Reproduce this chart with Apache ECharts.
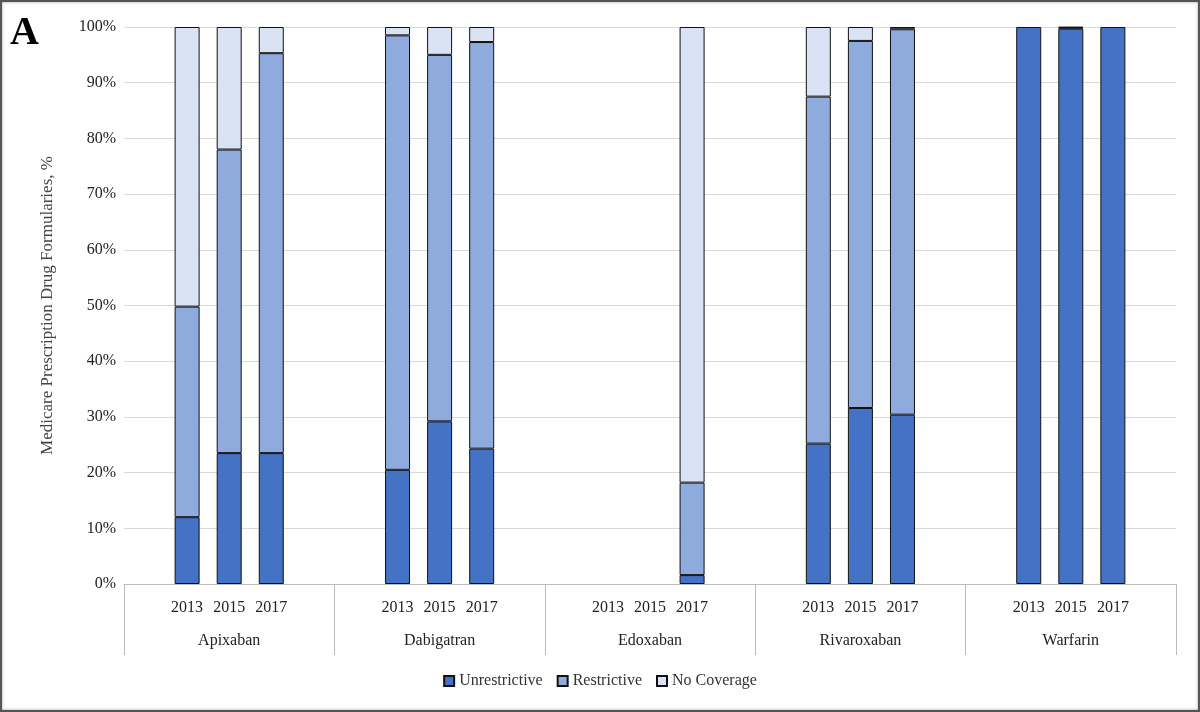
<!DOCTYPE html>
<html><head><meta charset="utf-8">
<script src="https://cdn.jsdelivr.net/npm/echarts@6/dist/echarts.min.js"></script>
<style>
html,body{margin:0;padding:0;background:#fff;}
#main{width:1196px;height:708px;border:2px solid #555;box-shadow:inset 0 0 3px #999;}
</style></head>
<body><div id="main"></div>
<script>
var drugs = ['Apixaban', 'Dabigatran', 'Edoxaban', 'Rivaroxaban', 'Warfarin'];
var years = ['2013', '2015', '2017'];
// per drug, per year (percent)
var unrestrictive = [[12, 23.5, 23.5], [20.5, 29.2, 24.3], [0, 0, 1.6], [25.2, 31.6, 30.4], [100, 99.7, 100]];
var restrictive = [[37.8, 54.5, 71.8], [78, 65.8, 73], [0, 0, 16.6], [62.3, 65.9, 69.2], [0, 0.2, 0]];
var noCoverage = [[50.2, 22, 4.7], [1.5, 5, 2.7], [0, 0, 81.8], [12.5, 2.5, 0.4], [0, 0.1, 0]];

// 5 slots per drug: spacer, three years, spacer
var slots = [];
function flatten(arr) {
  var out = [];
  arr.forEach(function (g) {
    out.push('-');
    g.forEach(function (v) { out.push(v === 0 ? '-' : v); });
    out.push('-');
  });
  return out;
}
drugs.forEach(function () {
  slots.push('');
  years.forEach(function (y) { slots.push(y); });
  slots.push('');
});
var keys = slots.map(function (s, i) { return i + ':' + s; });

var font = 'Liberation Serif';
var myChart = echarts.init(document.getElementById('main'));
function ser(name, data, color) {
  return {
    name: name, type: 'bar', stack: 'all', data: flatten(data), barWidth: 25,
    itemStyle: { color: color, borderColor: '#111', borderWidth: 1 }
  };
}
var option = {
  textStyle: { fontFamily: font },
  graphic: [{ type: 'text', left: 8, top: 12, style: { text: 'A', font: 'bold 40px "Liberation Serif"', fill: '#000' } }],
  grid: { left: 122, right: 22, top: 25, bottom: 126 },
  legend: {
    bottom: 16, itemWidth: 10, itemHeight: 10, icon: 'rect', itemGap: 14,
    textStyle: { fontFamily: font, fontSize: 16, color: '#333' },
    data: ['Unrestrictive', 'Restrictive', 'No Coverage']
  },
  xAxis: [{
    type: 'category', data: keys,
    axisLine: { lineStyle: { color: '#bbb' } }, axisTick: { show: false },
    axisLabel: { interval: 0, margin: 16, fontSize: 16, color: '#222', fontFamily: font,
      formatter: function (v) { return v.split(':')[1]; } }
  }, {
    type: 'category', data: drugs, position: 'bottom',
    axisLine: { show: false },
    axisTick: { show: true, length: 71, lineStyle: { color: '#bbb' } },
    axisLabel: { margin: 49, fontSize: 16, color: '#222', fontFamily: font }
  }],
  yAxis: {
    type: 'value', min: 0, max: 100, interval: 10,
    name: 'Medicare Prescription Drug Formularies, %', nameLocation: 'middle', nameGap: 68,
    nameTextStyle: { fontFamily: font, fontSize: 17, color: '#444' },
    axisLabel: { formatter: '{value}%', fontSize: 16, color: '#222', fontFamily: font },
    splitLine: { lineStyle: { color: '#d9d9d9' } }
  },
  series: [
    ser('Unrestrictive', unrestrictive, '#4472C4'),
    ser('Restrictive', restrictive, '#8FAADC'),
    ser('No Coverage', noCoverage, '#DAE3F3')
  ]
};
myChart.setOption(option);
</script></body></html>
